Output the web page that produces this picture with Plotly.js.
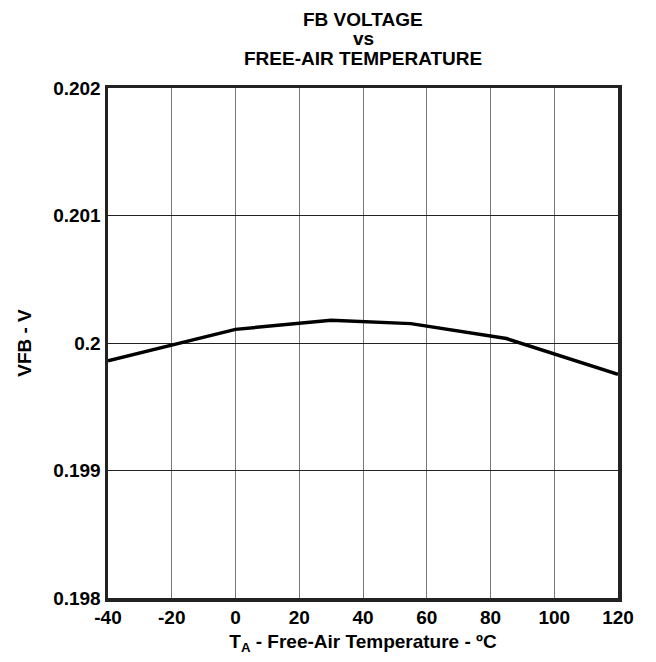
<!DOCTYPE html>
<html><head><meta charset="utf-8">
<script src="https://cdn.plot.ly/plotly-3.0.1.min.js"></script>
<style>html,body{margin:0;padding:0;background:#fff;}</style>
</head><body>
<div id="chart" style="width:656px;height:662px;"></div>
<script>
const temperature = [-40, 0, 30, 55, 85, 120];
const vfb = [0.19986, 0.200107, 0.200178, 0.200152, 0.200035, 0.199755];
const xTicks = [-40, -20, 0, 20, 40, 60, 80, 100, 120];
const yTicks = [0.198, 0.199, 0.2, 0.201, 0.202];
const yTickText = ['0.198', '0.199', '0.2', '0.201', '0.202'];
const titleLines = ['FB VOLTAGE', 'vs', 'FREE-AIR TEMPERATURE'];

const font = {family: 'Liberation Sans, Arial, sans-serif', color: '#000'};
const H = 662, T = 88, B = 64, PH = H - T - B;
const titleCenters = [19, 39, 59];
const annotations = titleLines.map((t, i) => ({
  text: '<b>' + t + '</b>', xref: 'paper', yref: 'paper', x: 0.5,
  y: 1 + (T - titleCenters[i]) / PH, xanchor: 'center', yanchor: 'middle',
  showarrow: false, font: Object.assign({size: 19}, font)
}));

Plotly.newPlot('chart', [{
  x: temperature, y: vfb, type: 'scatter', mode: 'lines',
  line: {color: '#000', width: 3.5}, hoverinfo: 'none'
}], {
  width: 656, height: H,
  margin: {l: 108, r: 38, t: T, b: B},
  paper_bgcolor: '#fff', plot_bgcolor: '#fff',
  showlegend: false,
  annotations: annotations,
  xaxis: {
    range: [-40, 120], tickvals: xTicks, ticktext: xTicks.map(v => '<b>' + v + '</b>'),
    showgrid: true, gridcolor: '#777', gridwidth: 1,
    showline: true, linecolor: '#222', linewidth: 3.5, mirror: true,
    ticks: '', zeroline: false, tickfont: Object.assign({size: 19}, font),
    title: {text: '<b>T<sub>A</sub> - Free-Air Temperature - ºC</b>', standoff: 8, font: Object.assign({size: 19}, font)}
  },
  yaxis: {
    range: [0.198, 0.202], tickvals: yTicks, ticktext: yTickText.map(v => '<b>' + v + '</b>'),
    showgrid: true, gridcolor: '#222', gridwidth: 1,
    showline: true, linecolor: '#222', linewidth: 3.5, mirror: true,
    ticks: '', zeroline: false, tickfont: Object.assign({size: 19}, font),
    title: {text: '<b>VFB - V</b>', standoff: 17, font: Object.assign({size: 19}, font)}
  }
}, {displayModeBar: false, staticPlot: true});
</script>
</body></html>
